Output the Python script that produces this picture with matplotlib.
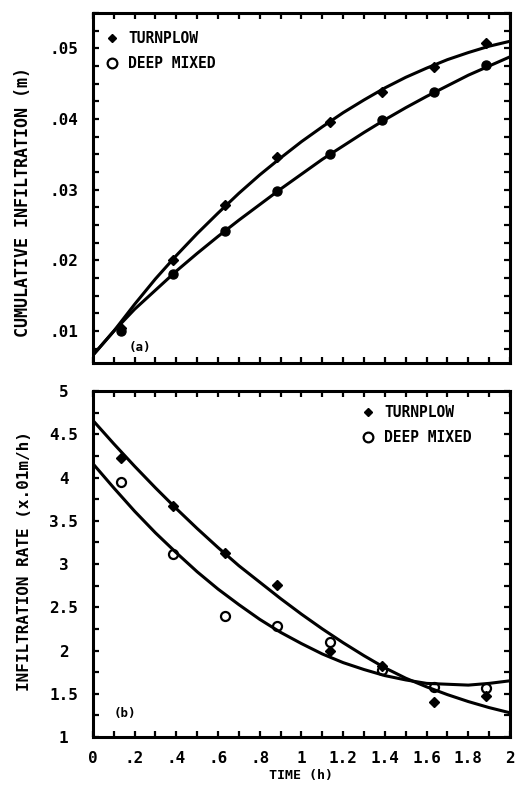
import matplotlib
matplotlib.use('Agg')
import matplotlib.pyplot as plt
from matplotlib.lines import Line2D
from matplotlib.ticker import MultipleLocator
import numpy as np

# measured sample times (h)
times = [0.135, 0.385, 0.635, 0.885, 1.135, 1.385, 1.635, 1.885]

# (a) cumulative infiltration (m)
turn_cum = [0.0104, 0.0200, 0.0278, 0.0346, 0.0396, 0.0438, 0.0473, 0.0508]
deep_cum = [0.0100, 0.0181, 0.0241, 0.0298, 0.0351, 0.0398, 0.0438, 0.0476]

# (b) infiltration rate (x.01 m/h)
turn_rate = [4.23, 3.67, 3.13, 2.76, 1.99, 1.82, 1.40, 1.47]
deep_rate = [3.95, 3.11, 2.40, 2.28, 2.10, 1.78, 1.58, 1.57]

# fitted curves, every 0.1 h
curve_t = [0.0, 0.1, 0.2, 0.3, 0.4, 0.5, 0.6, 0.7, 0.8, 0.9, 1.0,
           1.1, 1.2, 1.3, 1.4, 1.5, 1.6, 1.7, 1.8, 1.9, 2.0]
turn_cum_fit = [0.0066, 0.0100, 0.0138, 0.0174, 0.0207, 0.0238, 0.0267,
                0.0295, 0.0321, 0.0345, 0.0368, 0.0389, 0.0409, 0.0427,
                0.0444, 0.0459, 0.0472, 0.0484, 0.0494, 0.0503, 0.0510]
deep_cum_fit = [0.0066, 0.0100, 0.0131, 0.0158, 0.0185, 0.0210, 0.0234,
                0.0257, 0.0279, 0.0301, 0.0322, 0.0343, 0.0362, 0.0381,
                0.0399, 0.0416, 0.0432, 0.0447, 0.0462, 0.0475, 0.0488]
turn_rate_fit = [4.66, 4.39, 4.13, 3.88, 3.64, 3.41, 3.19, 2.98, 2.79,
                 2.60, 2.42, 2.25, 2.09, 1.94, 1.80, 1.68, 1.58, 1.49,
                 1.41, 1.34, 1.28]
deep_rate_fit = [4.16, 3.88, 3.61, 3.36, 3.13, 2.91, 2.71, 2.53, 2.36,
                 2.21, 2.08, 1.96, 1.86, 1.78, 1.71, 1.66, 1.62, 1.61,
                 1.60, 1.62, 1.65]

x_ticks = [0, 0.2, 0.4, 0.6, 0.8, 1.0, 1.2, 1.4, 1.6, 1.8, 2.0]
x_labels = ['0', '.2', '.4', '.6', '.8', '1', '1.2', '1.4', '1.6', '1.8', '2']
cum_ticks = [0.01, 0.02, 0.03, 0.04, 0.05]
cum_labels = ['.01', '.02', '.03', '.04', '.05']
rate_ticks = [1, 1.5, 2, 2.5, 3, 3.5, 4, 4.5, 5]
rate_labels = ['1', '1.5', '2', '2.5', '3', '3.5', '4', '4.5', '5']

plt.rcParams['font.family'] = ['DejaVu Sans Mono', 'DejaVu Sans']
plt.rcParams['font.weight'] = 'bold'


def style_axes(ax):
    for sp in ax.spines.values():
        sp.set_linewidth(2.2)
    ax.tick_params(which='both', direction='in', top=True, right=True,
                   length=4, width=1.6, labelsize=11.5)
    ax.xaxis.set_minor_locator(MultipleLocator(0.1))
    ax.set_xlim(0, 2)
    ax.set_xticks(x_ticks)


def legend(ax, anchor):
    handles = [
        Line2D([], [], ls='none', marker='D', ms=4, color='k', label='TURNPLOW'),
        Line2D([], [], ls='none', marker='o', ms=7, mfc='none', mec='k',
               mew=1.6, label='DEEP MIXED'),
    ]
    ax.legend(handles=handles, frameon=False, handlelength=0.6,
              handletextpad=0.8, labelspacing=0.7, borderpad=0,
              borderaxespad=0, loc='upper left', bbox_to_anchor=anchor,
              prop={'size': 10.5, 'weight': 'bold'})


fig = plt.figure(figsize=(5.22, 7.96), dpi=100)
ax1 = fig.add_axes([0.178, 0.544, 0.799, 0.4397])
ax2 = fig.add_axes([0.178, 0.0741, 0.799, 0.4347])

# (a)
style_axes(ax1)
ax1.plot(curve_t, turn_cum_fit, color='k', lw=2.2)
ax1.plot(curve_t, deep_cum_fit, color='k', lw=2.2)
ax1.plot(times, turn_cum, ls='none', marker='D', ms=5, color='k')
ax1.plot(times, deep_cum, ls='none', marker='o', ms=6.5, color='k')
ax1.set_ylim(0.0055, 0.055)
ax1.set_yticks(cum_ticks)
ax1.set_yticklabels(cum_labels)
ax1.yaxis.set_minor_locator(MultipleLocator(0.0025))
ax1.tick_params(axis='x', labelbottom=False)
ax1.set_ylabel('CUMULATIVE INFILTRATION (m)', fontsize=12, fontweight='bold')
ax1.yaxis.set_label_coords(-0.146, 0.46)
ax1.text(0.113, 0.043, '(a)', transform=ax1.transAxes, ha='center',
         va='center', fontsize=9, fontweight='bold')
legend(ax1, (0.035, 0.949))

# (b)
style_axes(ax2)
ax2.plot(curve_t, turn_rate_fit, color='k', lw=2.2)
ax2.plot(curve_t, deep_rate_fit, color='k', lw=2.2)
ax2.plot(times, turn_rate, ls='none', marker='D', ms=5, color='k')
ax2.plot(times, deep_rate, ls='none', marker='o', ms=6.5, mfc='none',
         mec='k', mew=1.6)
ax2.set_ylim(1, 5)
ax2.set_yticks(rate_ticks)
ax2.set_yticklabels(rate_labels)
ax2.yaxis.set_minor_locator(MultipleLocator(0.25))
ax2.set_xticklabels(x_labels)
ax2.tick_params(axis='x', pad=10)
ax2.set_xlabel('TIME (h)', fontsize=9.5, fontweight='bold', labelpad=2)
ax2.set_ylabel('INFILTRATION RATE (x.01m/h)', fontsize=11.5, fontweight='bold')
ax2.yaxis.set_label_coords(-0.146, 0.509)
ax2.text(0.077, 0.069, '(b)', transform=ax2.transAxes, ha='center',
         va='center', fontsize=9, fontweight='bold')
legend(ax2, (0.649, 0.96))

for ax in (ax1, ax2):
    ax.tick_params(axis='y', pad=21)
    for lab in ax.get_yticklabels():
        lab.set_horizontalalignment('center')

fig.savefig('out.png', dpi=100)
